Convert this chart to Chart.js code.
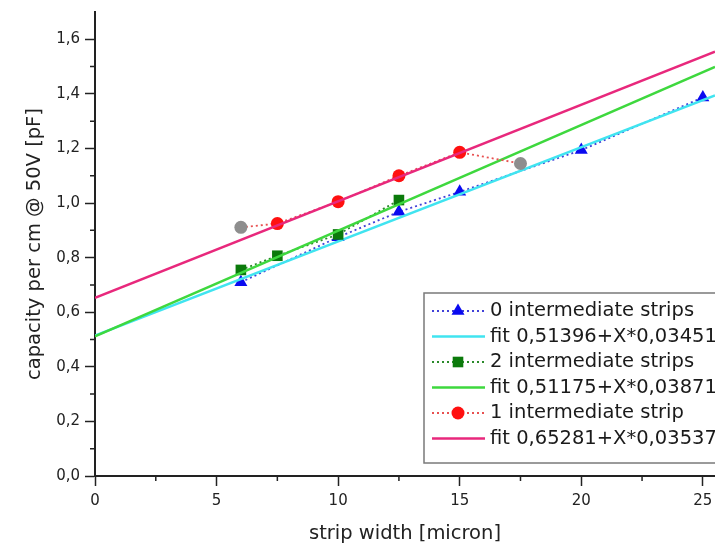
<!DOCTYPE html>
<html>
<head>
<meta charset="utf-8">
<script src="https://cdn.jsdelivr.net/npm/chart.js@4.4.1/dist/chart.umd.min.js"></script>
<style>
  html, body { margin: 0; padding: 0; background: #fff; }
  #wrap { width: 715px; height: 548px; }
</style>
</head>
<body>
<div id="wrap"><canvas id="myChart"></canvas></div>
<script>
// === Data ===

// 0 intermediate strips (blue triangles)
const xZero = [6, 10, 12.5, 15, 20, 25];
const yZero = [0.71, 0.875, 0.968, 1.041, 1.194, 1.387];

// 2 intermediate strips (green squares)
const xTwo = [6, 7.5, 10, 12.5];
const yTwo = [0.755, 0.807, 0.885, 1.011];

// 1 intermediate strip (red circles, grey ones are left out of the fit)
const xOne = [6, 7.5, 10, 12.5, 15, 17.5];
const yOne = [0.911, 0.925, 1.005, 1.1, 1.186, 1.145];
const oneExcluded = [true, false, false, false, false, true];

// linear fits, start and end of each line
const fitX = [0, 25.5];
const fitZero = [0.514, 1.394];
const fitTwo = [0.512, 1.499];
const fitOne = [0.653, 1.555];

const seriesLabels = [
  '0 intermediate strips',
  'fit 0,51396+X*0,03451',
  '2 intermediate strips',
  'fit 0,51175+X*0,03871',
  '1 intermediate strip',
  'fit 0,65281+X*0,03537'
];

const xTicks = [0, 5, 10, 15, 20, 25];
const xMinor = [2.5, 7.5, 12.5, 17.5, 22.5];
const yTicks = [0, 0.2, 0.4, 0.6, 0.8, 1.0, 1.2, 1.4, 1.6];
const yMinor = [0.1, 0.3, 0.5, 0.7, 0.9, 1.1, 1.3, 1.5];

const toPoints = (xs, ys) => xs.map((x, i) => ({ x: x, y: ys[i] }));

const FONT = '"DejaVu Sans", sans-serif';
const AXIS = '#222';

const blue = '#0a0af0';
const green = '#0b7a0b';
const red = '#ff1010';
const grey = '#8e8e8e';

// small ticks between the labelled ones
const minorTicks = {
  id: 'minorTicks',
  afterDraw(chart) {
    const { ctx, chartArea, scales } = chart;
    ctx.save();
    ctx.strokeStyle = AXIS;
    ctx.lineWidth = 1.5;
    ctx.beginPath();
    xMinor.forEach(v => {
      const px = scales.x.getPixelForValue(v);
      ctx.moveTo(px, chartArea.bottom);
      ctx.lineTo(px, chartArea.bottom + 5);
    });
    yMinor.forEach(v => {
      const py = scales.y.getPixelForValue(v);
      ctx.moveTo(chartArea.left, py);
      ctx.lineTo(chartArea.left - 5, py);
    });
    ctx.stroke();
    ctx.restore();
  }
};

// legend box inside the plot, lower right
const boxLegend = {
  id: 'boxLegend',
  afterDraw(chart) {
    const { ctx, chartArea } = chart;
    const left = chartArea.left + 329;
    const top = chartArea.bottom - 183;
    ctx.save();
    ctx.fillStyle = '#fff';
    ctx.fillRect(left, top, 320, 170);
    ctx.strokeStyle = '#7a7a7a';
    ctx.lineWidth = 1.5;
    ctx.strokeRect(left, top, 320, 170);
    ctx.font = '19.5px ' + FONT;
    ctx.textBaseline = 'middle';
    ctx.textAlign = 'left';
    chart.data.datasets.forEach((ds, i) => {
      const yy = top + 18 + i * 25.5;
      ctx.strokeStyle = ds.borderColor;
      ctx.lineWidth = ds.borderWidth;
      ctx.setLineDash(ds.borderDash || []);
      ctx.beginPath();
      ctx.moveTo(left + 8, yy);
      ctx.lineTo(left + 61, yy);
      ctx.stroke();
      ctx.setLineDash([]);
      if (ds.markerColor) {
        ctx.fillStyle = ds.markerColor;
        Chart.helpers.drawPoint(ctx, {
          pointStyle: ds.pointStyle, radius: ds.pointRadius, rotation: 0, borderWidth: 0
        }, left + 34, yy);
      }
      ctx.fillStyle = '#1a1a1a';
      ctx.fillText(ds.label, left + 66, yy);
    });
    ctx.restore();
  }
};

const ctx = document.getElementById('myChart').getContext('2d');
new Chart(ctx, {
  type: 'scatter',
  data: {
    datasets: [
      {
        label: seriesLabels[0],
        data: toPoints(xZero, yZero),
        showLine: true,
        borderColor: '#4040d8',
        borderWidth: 1.8,
        borderDash: [2, 3],
        pointStyle: 'triangle',
        pointRadius: 7.5,
        pointBackgroundColor: blue,
        pointBorderColor: blue,
        pointBorderWidth: 0,
        markerColor: blue,
        order: 6
      },
      {
        label: seriesLabels[1],
        data: toPoints(fitX, fitZero),
        showLine: true,
        borderColor: '#40e4f0',
        borderWidth: 2.5,
        pointRadius: 0,
        order: 5
      },
      {
        label: seriesLabels[2],
        data: toPoints(xTwo, yTwo),
        showLine: true,
        borderColor: '#2a8a2a',
        borderWidth: 1.8,
        borderDash: [2, 3],
        pointStyle: 'rect',
        pointRadius: 7.5,
        pointBackgroundColor: green,
        pointBorderColor: green,
        pointBorderWidth: 0,
        markerColor: green,
        order: 4
      },
      {
        label: seriesLabels[3],
        data: toPoints(fitX, fitTwo),
        showLine: true,
        borderColor: '#3ed83e',
        borderWidth: 2.5,
        pointRadius: 0,
        order: 3
      },
      {
        label: seriesLabels[4],
        data: toPoints(xOne, yOne),
        showLine: true,
        borderColor: '#e85050',
        borderWidth: 1.8,
        borderDash: [2, 3],
        pointStyle: 'circle',
        pointRadius: 6.5,
        pointBackgroundColor: c => oneExcluded[c.dataIndex] ? grey : red,
        pointBorderColor: c => oneExcluded[c.dataIndex] ? grey : red,
        pointBorderWidth: 0,
        markerColor: red,
        order: 2
      },
      {
        label: seriesLabels[5],
        data: toPoints(fitX, fitOne),
        showLine: true,
        borderColor: '#e8287c',
        borderWidth: 2.5,
        pointRadius: 0,
        order: 1
      }
    ]
  },
  options: {
    responsive: true,
    maintainAspectRatio: false,
    animation: false,
    layout: {
      autoPadding: false,
      padding: { top: 12, right: 0, bottom: 0, left: 0 }
    },
    plugins: {
      legend: { display: false },
      tooltip: { enabled: false }
    },
    scales: {
      x: {
        type: 'linear',
        min: 0,
        max: 25.5,
        afterBuildTicks: s => { s.ticks = xTicks.map(v => ({ value: v })); },
        afterFit: s => { s.height = 72; s.paddingLeft = 0; s.paddingRight = 0; },
        ticks: {
          font: { family: FONT, size: 15 },
          color: AXIS,
          padding: 6,
          autoSkip: false,
          maxRotation: 0,
          callback: v => String(v)
        },
        grid: {
          drawOnChartArea: false,
          drawTicks: true,
          tickLength: 10,
          tickColor: AXIS,
          tickWidth: 1.5
        },
        border: { color: AXIS, width: 2 },
        title: {
          display: true,
          text: 'strip width [micron]',
          font: { family: FONT, size: 19.5 },
          color: AXIS,
          padding: { top: 0, bottom: 2 }
        }
      },
      y: {
        min: 0,
        max: 1.7,
        afterBuildTicks: s => { s.ticks = yTicks.map(v => ({ value: v })); },
        afterFit: s => { s.width = 95; s.paddingTop = 0; s.paddingBottom = 0; },
        ticks: {
          font: { family: FONT, size: 15 },
          color: AXIS,
          padding: 5,
          autoSkip: false,
          callback: v => v.toFixed(1).replace('.', ',')
        },
        grid: {
          drawOnChartArea: false,
          drawTicks: true,
          tickLength: 10,
          tickColor: AXIS,
          tickWidth: 1.5
        },
        border: { color: AXIS, width: 2 },
        title: {
          display: true,
          text: 'capacity per cm @ 50V [pF]',
          font: { family: FONT, size: 19.5 },
          color: AXIS,
          padding: { top: 23, bottom: 0 }
        }
      }
    }
  },
  plugins: [minorTicks, boxLegend]
});
</script>
</body>
</html>
